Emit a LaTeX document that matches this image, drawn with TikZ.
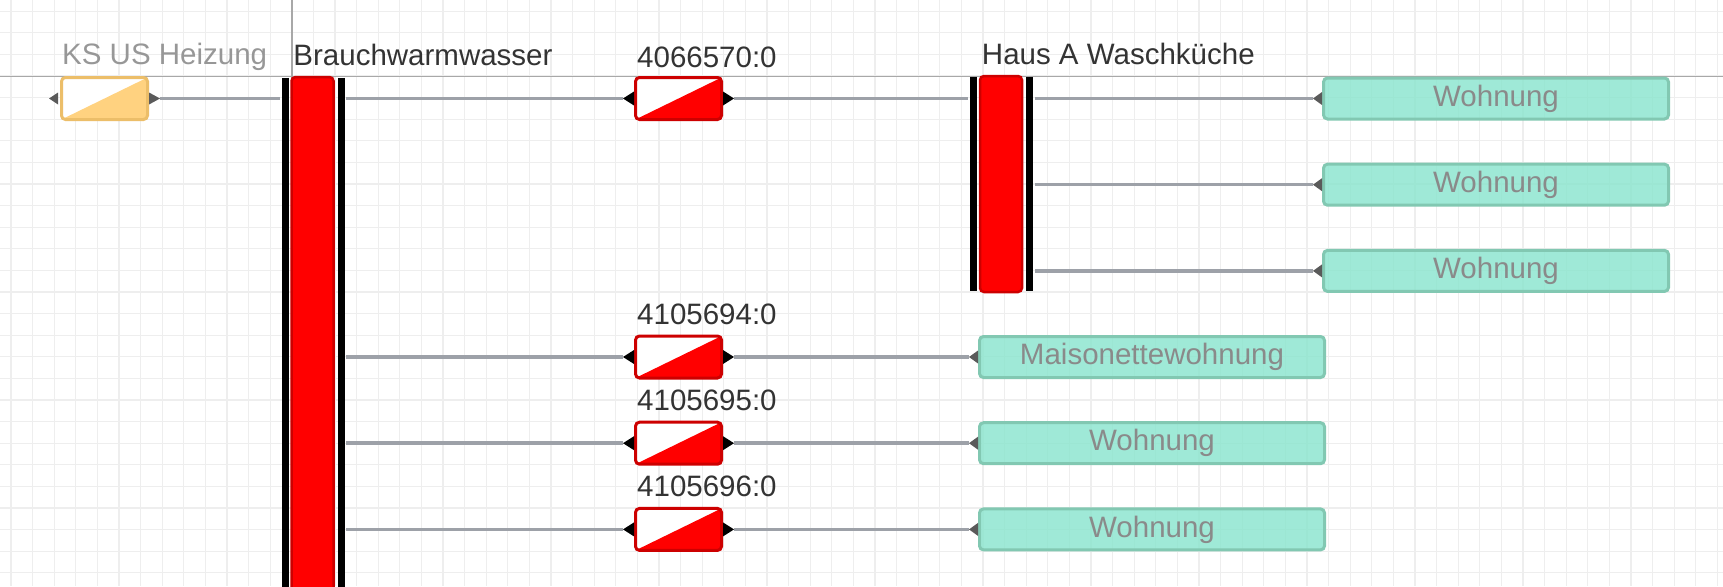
\documentclass[tikz,border=0pt]{standalone}
\usepackage{fontspec}
\setmainfont{Liberation Sans}
\usetikzlibrary{positioning}

\definecolor{gridgray}{RGB}{238,238,238}
\definecolor{axisgray}{RGB}{168,168,168}
\definecolor{pipegray}{RGB}{157,161,168}
\definecolor{valveline}{RGB}{205,0,0}
\definecolor{ksfill}{RGB}{255,210,128}
\definecolor{ksline}{RGB}{236,190,105}
\definecolor{flatfill}{RGB}{136,228,205}
\definecolor{flatline}{RGB}{130,200,178}
\definecolor{flattext}{RGB}{138,138,138}
\definecolor{tagtext}{RGB}{51,51,51}
\definecolor{porttip}{RGB}{90,90,90}

\begin{document}
\begin{tikzpicture}[
    x=1pt, y=-1pt,
    gridline/.style={draw=gridgray, line width=1.3pt},
    axisline/.style={draw=axisgray, line width=1.5pt},
    pipe/.style={draw=pipegray, line width=3.5pt},
    bar/.style={rectangle, rounded corners=4pt, draw=valveline, fill=red, line width=2.5pt, minimum width=42pt},
    rail/.style={draw=black, line width=7pt},
    valve/.style={rectangle, rounded corners=4pt, draw=valveline, fill=white, line width=3pt, minimum width=86pt, minimum height=42pt,
        path picture={\fill[#1] (path picture bounding box.south west) -- (path picture bounding box.north east) -- (path picture bounding box.south east) -- cycle;}},
    valve/.default=red,
    dwelling/.style={rectangle, rounded corners=4pt, draw=flatline, fill=flatfill, fill opacity=0.8, text opacity=1, line width=3pt, minimum width=345pt, minimum height=41pt, text=flattext, font=\fontsize{29.5}{34}\selectfont},
    tag/.style={anchor=base west, inner sep=0pt, text=tagtext, font=\fontsize{29.5}{34}\selectfont}
]

\useasboundingbox (0,0) rectangle (1723,586);
\clip (0,0) rectangle (1723,586);
\fill[white] (0,0) rectangle (1723,586);

% Grid
\foreach \i in {0,...,79} \draw[gridline] ({11+21.6*\i},0) -- ({11+21.6*\i},586);
\foreach \j in {0,...,26} \draw[gridline] (0,{11.2+21.6*\j}) -- (1723,{11.2+21.6*\j});
\draw[axisline] (0,76.5) -- (1723,76.5);
\draw[axisline] (292,0) -- (292,586);

% Nodes
\node (ks) [valve=ksfill, draw=ksline] at (104.5,98.5) {};
\node (bw) [bar, minimum height=542pt] at (312.5,348) {};
\node (hA) [bar, minimum height=216pt] at (1001,184) {};

\node (vA) [valve] at (678.5,98.5) {};
\node (vB) [valve] at (678.5,357) {};
\node (vC) [valve] at (678.5,443.2) {};
\node (vD) [valve] at (678.5,529.4) {};

\node (w1) [dwelling] at (1496,98.5) {Wohnung};
\node (w2) [dwelling] at (1496,184.7) {Wohnung};
\node (w3) [dwelling] at (1496,270.9) {Wohnung};
\node (m1) [dwelling] at (1152,357) {Maisonettewohnung};
\node (w4) [dwelling] at (1152,443.2) {Wohnung};
\node (w5) [dwelling] at (1152,529.4) {Wohnung};

% Labels
\node (ksTag) [tag, text=axisgray!90!black] at ([shift={(2,-11)}]ks.north west) {KS US Heizung};
\node (bwTag) [tag] at ([shift={(3,-10)}]bw.north west) {Brauchwarmwasser};
\node (hATag) [tag] at ([shift={(3,-10)}]hA.north west) {Haus A Waschküche};
\node (vATag) [tag] at ([shift={(3,-9)}]vA.north west) {4066570:0};
\node (vBTag) [tag] at ([shift={(3,-10)}]vB.north west) {4105694:0};
\node (vCTag) [tag] at ([shift={(3,-10)}]vC.north west) {4105695:0};
\node (vDTag) [tag] at ([shift={(3,-10)}]vD.north west) {4105696:0};

% Rails
\foreach \b in {bw,hA} {
    \draw[rail] ([xshift=-5pt, yshift=-2pt]\b.north west) -- ([xshift=-5pt, yshift=2pt]\b.south west);
    \draw[rail] ([xshift=6.5pt, yshift=-2pt]\b.north east) -- ([xshift=6.5pt, yshift=2pt]\b.south east);
}

% Pipes
\draw[pipe, shorten <=11pt, shorten >=10pt] (ks.east) -- (ks.east -| bw.west);
\foreach \v in {vA,vB,vC,vD}
    \draw[pipe, shorten <=11pt, shorten >=11pt] (bw.east |- \v.west) -- (\v.west);
\draw[pipe, shorten <=11pt, shorten >=11pt] (vA.east) -- (vA.east -| hA.west);
\foreach \w in {w1,w2,w3}
    \draw[pipe, shorten <=12pt, shorten >=9pt] (hA.east |- \w.west) -- (\w.west);
\draw[pipe, shorten <=11pt, shorten >=9pt] (vB.east) -- (m1.west);
\draw[pipe, shorten <=11pt, shorten >=9pt] (vC.east) -- (w4.west);
\draw[pipe, shorten <=11pt, shorten >=9pt] (vD.east) -- (w5.west);

% Ports
\foreach \v in {vA,vB,vC,vD} {
    \fill[black] (\v.west) ++(0,-7) -- ++(-11,7) -- ++(11,7) -- cycle;
    \fill[black] (\v.east) ++(0,-7) -- ++(11,7) -- ++(-11,7) -- cycle;
}
\fill[porttip] ([xshift=-2pt]ks.west) ++(0,-6) -- ++(-9,6) -- ++(9,6) -- cycle;
\fill[porttip] (ks.east) ++(0,-6) -- ++(11,6) -- ++(-11,6) -- cycle;
\foreach \w in {w1,w2,w3,m1,w4,w5}
    \fill[porttip] (\w.west) ++(0,-6.5) -- ++(-9,6.5) -- ++(9,6.5) -- cycle;

\end{tikzpicture}
\end{document}
